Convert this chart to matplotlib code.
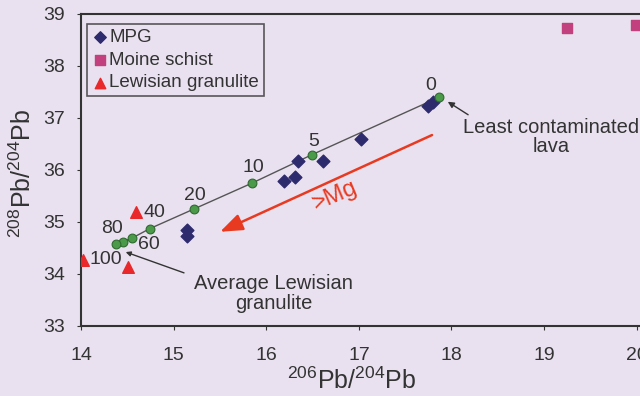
import matplotlib
matplotlib.use("Agg")
import matplotlib.pyplot as plt

plt.rcParams['font.family'] = ['Liberation Sans', 'DejaVu Sans']
plt.rcParams['mathtext.fontset'] = 'custom'
plt.rcParams['mathtext.rm'] = 'Liberation Sans'
plt.rcParams['mathtext.it'] = 'Liberation Sans'

# mixing curve (green points) with % labels
mix_x = [17.87, 16.49, 15.85, 15.22, 14.74, 14.55, 14.45, 14.37]
mix_y = [37.40, 36.29, 35.75, 35.25, 34.87, 34.69, 34.62, 34.58]
mix_labels = ["0", "5", "10", "20", "40", "60", "80", "100"]
label_x = [17.78, 16.51, 15.86, 15.23, 14.79, 14.73, 14.33, 14.26]
label_y = [37.63, 36.54, 36.04, 35.50, 35.19, 34.56, 34.88, 34.27]

# MPG lavas
mpg_x = [17.75, 17.80, 17.02, 16.34, 16.61, 16.31, 16.19, 15.14, 15.14]
mpg_y = [37.22, 37.30, 36.60, 36.17, 36.17, 35.87, 35.79, 34.85, 34.72]

# Moine schist
moine_x = [19.25, 19.99]
moine_y = [38.73, 38.79]

# Lewisian granulite
lew_x = [14.59, 14.02, 14.50]
lew_y = [35.19, 34.27, 34.13]

bg = '#e9e1ef'
ink = '#333333'
fig = plt.figure(figsize=(6.4, 3.96), dpi=100, facecolor=bg)
ax = fig.add_axes([0.127, 0.177, 0.885, 0.788], facecolor=bg)

ax.plot(mix_x, mix_y, color='#555555', lw=1.0, zorder=2)
ax.scatter(mpg_x, mpg_y, marker='D', s=42, color='#2d2a6e', zorder=3, label='MPG')
ax.scatter(moine_x, moine_y, marker='s', s=60, color='#c2407e', zorder=3, label='Moine schist')
ax.scatter(lew_x, lew_y, marker='^', s=70, color='#e8282a', zorder=3, label='Lewisian granulite')
ax.scatter(mix_x, mix_y, marker='o', s=40, color='#4a9a4a', edgecolor='#2f6a2f', lw=0.8, zorder=4)

for lx, ly, t in zip(label_x, label_y, mix_labels):
    ax.text(lx, ly, t, fontsize=14, color=ink, ha='center', va='center', zorder=5)

# red >Mg arrow
ax.annotate('', xy=(15.50, 34.81), xytext=(17.79, 36.67),
            arrowprops=dict(arrowstyle='-|>,head_length=0.8,head_width=0.3',
                            color='#e83a20', lw=1.8,
                            mutation_scale=17, shrinkA=0, shrinkB=0))
ax.text(16.74, 35.50, '>Mg', color='#e83a20', fontsize=17, rotation=23,
        ha='center', va='center')

# annotations
ax.annotate('', xy=(17.96, 37.31), xytext=(18.18, 37.06),
            arrowprops=dict(arrowstyle='-|>', color=ink, lw=1.0,
                            mutation_scale=9, shrinkA=0, shrinkB=0))
ax.text(19.08, 36.63, 'Least contaminated\nlava', fontsize=14.5, color=ink,
        ha='center', va='center', linespacing=1.05)
ax.annotate('', xy=(14.48, 34.42), xytext=(15.11, 34.02),
            arrowprops=dict(arrowstyle='-|>', color=ink, lw=1.0,
                            mutation_scale=7, shrinkA=0, shrinkB=0))
ax.text(16.08, 33.62, 'Average Lewisian\ngranulite', fontsize=14.5, color=ink,
        ha='center', va='center', linespacing=1.05)

ax.set_xlim(14, 20.12)
ax.set_ylim(33, 39)
ax.set_xticks([14, 15, 16, 17, 18, 19, 20])
ax.set_yticks([33, 34, 35, 36, 37, 38, 39])
ax.tick_params(labelsize=14, colors=ink, length=3, width=0.8)
ax.tick_params(axis='y', pad=9)
ax.tick_params(axis='x', pad=12)
for s in ax.spines.values():
    s.set_color(ink)
    s.set_linewidth(1.5)
ax.spines['right'].set_visible(False)

ax.set_xlabel(r'$^{206}$Pb/$^{204}$Pb', fontsize=18, color=ink)
ax.set_ylabel(r'$^{208}$Pb/$^{204}$Pb', fontsize=18, color=ink)
ax.xaxis.set_label_coords(0.478, -0.135)
ax.yaxis.set_label_coords(-0.080, 0.49)

leg = ax.legend(loc='upper left', bbox_to_anchor=(0.0, 0.985), fontsize=13.5,
                frameon=True, fancybox=False, handletextpad=0.05,
                handlelength=0.9, borderpad=0.25, labelspacing=0.3,
                borderaxespad=0.3, markerscale=0.9)
leg.get_frame().set_edgecolor(ink)
leg.get_frame().set_facecolor(bg)
leg.get_frame().set_linewidth(1.2)
for t in leg.get_texts():
    t.set_color(ink)

fig.savefig('out.png', dpi=100, facecolor=bg)
